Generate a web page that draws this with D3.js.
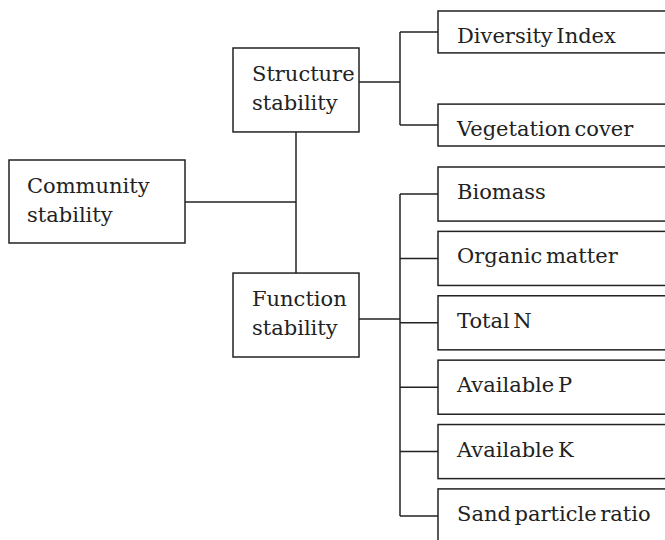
<!DOCTYPE html>
<html>
<head>
<meta charset="utf-8">
<script src="https://cdn.jsdelivr.net/npm/d3@7"></script>
<style>
  body { margin: 0; background: #fff; }
  svg { display: block; }
</style>
</head>
<body>
<div id="container"></div>
<script>
/* CONSTANTS AND GLOBALS */
const width = 665,
  height = 540;

/* DATA */
const rootLabel = ["Community", "stability"];
const groups = ["Structure stability", "Function stability"];
const structureLeaves = ["Diversity Index", "Vegetation cover"];
const functionLeaves = ["Biomass", "Organic matter", "Total N", "Available P", "Available K", "Sand particle ratio"];

const stroke = "#222";
const font = "'DejaVu Serif', serif";

const svg = d3.select("#container")
  .append("svg")
  .attr("width", width)
  .attr("height", height);

/* SCALES */
// column positions
const xCol = d3.scaleOrdinal()
  .domain(["root", "group", "leaf"])
  .range([9, 233, 438]);

const groupY = d3.scaleBand()
  .domain(groups)
  .range([48, 357])
  .paddingInner(0.627);

const structY = d3.scaleBand()
  .domain(structureLeaves)
  .range([11, 146])
  .paddingInner(0.55);

const funcY = d3.scaleBand()
  .domain(functionLeaves)
  .range([167, 543])
  .paddingInner(0.16);

const trunkX = 296;
const bracketX = 400;
const leafW = 260;

function box(g, x, y, w, h) {
  g.append("rect")
    .attr("x", x).attr("y", y)
    .attr("width", w).attr("height", h)
    .attr("fill", "#fff")
    .attr("stroke", stroke)
    .attr("stroke-width", 1.5);
}

function lines(g, x, y, lines, lh) {
  const t = g.append("text")
    .attr("font-family", font)
    .attr("font-size", 21)
    .attr("word-spacing", -3)
    .attr("fill", "#222");
  lines.forEach((l, i) => {
    t.append("tspan").attr("x", x).attr("y", y + i * lh).text(l);
  });
}

const gLinks = svg.append("g")
  .attr("fill", "none")
  .attr("stroke", stroke)
  .attr("stroke-width", 1.5);
const gNodes = svg.append("g");

/* ROOT */
const rootTop = 160, rootH = 83, rootW = 176;
box(gNodes, xCol("root"), rootTop, rootW, rootH);
lines(gNodes, xCol("root") + 18, rootTop + 33, rootLabel, 29);

/* GROUPS */
const groupW = 126;
const gh = groupY.bandwidth();
groups.forEach(name => {
  const y = groupY(name);
  box(gNodes, xCol("group"), y, groupW, gh);
  lines(gNodes, xCol("group") + 19, y + 33, name.split(" "), 29);
});

// trunk joining the two groups + root link
gLinks.append("path")
  .attr("d", `M${trunkX},${groupY(groups[0]) + gh}V${groupY(groups[1])}`);
gLinks.append("path")
  .attr("d", `M${xCol("root") + rootW},202H${trunkX}`);

/* LEAVES */
function leafSet(leaves, scale, group, branchY) {
  const bw = scale.bandwidth();
  const ys = leaves.map(d => scale(d) + bw / 2);
  // group -> bracket
  gLinks.append("path")
    .attr("d", `M${xCol("group") + groupW},${branchY}H${bracketX}`);
  // bracket spine
  gLinks.append("path")
    .attr("d", `M${bracketX},${d3.min(ys)}V${d3.max(ys)}`);
  leaves.forEach((d, i) => {
    gLinks.append("path")
      .attr("d", `M${bracketX},${ys[i]}H${xCol("leaf")}`);
    box(gNodes, xCol("leaf"), scale(d), leafW, bw);
    lines(gNodes, xCol("leaf") + 19, scale(d) + 32, [d], 0);
  });
}

leafSet(structureLeaves, structY, groups[0], 82);
leafSet(functionLeaves, funcY, groups[1], 319);
</script>
</body>
</html>
